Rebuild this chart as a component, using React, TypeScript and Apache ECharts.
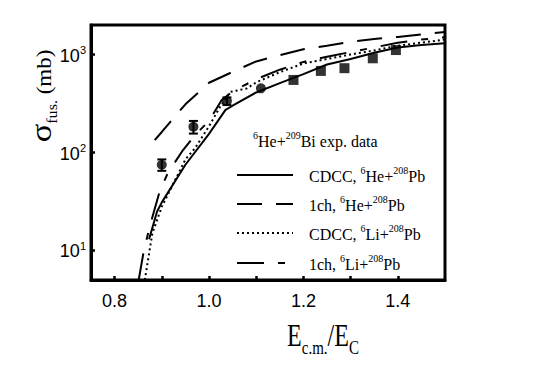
import React, { useEffect, useRef } from 'react';
import * as echarts from 'echarts';

// ---- data (sigma_fus in mb vs Ec.m./Ec) ----
const cdccHeX = [0.873, 0.89, 0.9, 0.95, 1.0, 1.035, 1.05, 1.1, 1.15, 1.2, 1.25, 1.3, 1.35, 1.4, 1.45, 1.5];
const cdccHeY = [13, 25, 31, 75, 155, 272, 300, 410, 510, 630, 790, 900, 1040, 1180, 1250, 1300];

const oneChHeX = [0.885, 0.9, 0.925, 0.95, 0.98, 1.0, 1.05, 1.1, 1.15, 1.2, 1.25, 1.3, 1.35, 1.4, 1.45, 1.5];
const oneChHeY = [134, 162, 225, 310, 420, 515, 665, 850, 985, 1130, 1230, 1350, 1440, 1510, 1600, 1700];

const cdccLiX = [0.864, 0.88, 0.9, 0.95, 0.97, 1.0, 1.023, 1.045, 1.08, 1.1, 1.15, 1.2, 1.25, 1.3, 1.35, 1.4, 1.45, 1.5];
const cdccLiY = [5, 15, 28, 85, 110, 185, 290, 415, 450, 520, 660, 810, 900, 1000, 1100, 1230, 1320, 1420];

const oneChLiX = [0.851, 0.862, 0.875, 0.896, 0.913, 0.945, 0.97, 1.0, 1.027, 1.05, 1.1, 1.15, 1.2, 1.25, 1.3, 1.35, 1.4, 1.45, 1.5];
const oneChLiY = [5, 10, 18, 41, 62, 106, 150, 210, 344, 420, 560, 700, 840, 950, 1060, 1180, 1320, 1420, 1500];

const expCircleX = [0.9, 0.967, 1.038, 1.11];
const expCircleY = [75, 183, 335, 452];
const expCircleErr = [10, 27, 30, 0];

const expSquareX = [1.179, 1.237, 1.287, 1.347, 1.396];
const expSquareY = [550, 680, 725, 915, 1110];

const xRange = [0.75, 1.5];
const yRange = [5, 2000];
const xTickValues = [0.8, 0.9, 1.0, 1.1, 1.2, 1.3, 1.4];
const xLabelValues = [0.8, 1.0, 1.2, 1.4];

const legendModel = ['CDCC', '1ch', 'CDCC', '1ch'];
const legendProjectile = ['He', 'He', 'Li', 'Li'];
const projectileMass = '6';
const targetMass = '208';
const target = 'Pb';
const expLabel = { pMass: '6', p: 'He+', tMass: '209', t: 'Bi exp. data' };

const SERIF = 'Liberation Serif';
const SANS = 'Liberation Sans';

function pairs(xs: number[], ys: number[]) {
  return xs.map((x, i) => [x, ys[i]]);
}

export default function App() {
  const ref = useRef<HTMLDivElement>(null);

  useEffect(() => {
    const chart = echarts.init(ref.current!, null, { renderer: 'svg' });

    const dashes: any[] = ['solid', [25, 14], [2, 3], [27, 14, 7, 14]];
    const curveData = [
      pairs(cdccHeX, cdccHeY),
      pairs(oneChHeX, oneChHeY),
      pairs(cdccLiX, cdccLiY),
      pairs(oneChLiX, oneChLiY),
    ];
    const names = legendModel.map(
      (m, i) => `${m}, ${projectileMass}${legendProjectile[i]}+${targetMass}${target}`
    );

    const lineSeries = curveData.map((d, i) => ({
      name: names[i],
      type: 'line',
      data: d,
      showSymbol: false,
      symbol: 'none',
      lineStyle: { color: '#000', width: 2, type: dashes[i] },
      z: 2,
    }));

    const legendRich = {
      n: { fontFamily: SERIF, fontSize: 16, lineHeight: 19, verticalAlign: 'bottom', fill: '#000' },
      s: { fontFamily: SERIF, fontSize: 10, lineHeight: 11, verticalAlign: 'top', fill: '#000' },
    };

    const rowY = [175, 204, 233, 263];
    const legendGraphics: any[] = [];
    rowY.forEach((y, i) => {
      legendGraphics.push({
        type: 'line',
        shape: { x1: 237, y1: y, x2: 293, y2: y },
        style: { stroke: '#000', lineWidth: 2, lineDash: dashes[i] === 'solid' ? null : dashes[i] },
      });
      legendGraphics.push({
        type: 'text',
        x: 309,
        y: y,
        style: {
          text: `{n|${legendModel[i]}, }{s|${projectileMass}}{n|${legendProjectile[i]}+}{s|${targetMass}}{n|${target}}`,
          rich: legendRich,
          align: 'left',
          verticalAlign: 'middle',
        },
      });
    });
    legendGraphics.push({
      type: 'text',
      x: 253,
      y: 140,
      style: {
        text: `{s|${expLabel.pMass}}{n|${expLabel.p}}{s|${expLabel.tMass}}{n|${expLabel.t}}`,
        rich: legendRich,
        align: 'left',
        verticalAlign: 'middle',
      },
    });

    // axis titles
    legendGraphics.push({
      type: 'text',
      x: 323,
      y: 338,
      scaleY: 1.3,
      style: {
        text: '{e|E}{s|c.m.}{e|/E}{s|C}',
        rich: {
          e: { fontFamily: SERIF, fontSize: 24, lineHeight: 30, verticalAlign: 'bottom', padding: [0, 0, 5, 0], fill: '#000' },
          s: { fontFamily: SERIF, fontSize: 15, lineHeight: 18, verticalAlign: 'bottom', fill: '#000' },
        },
        align: 'center',
        verticalAlign: 'middle',
      },
    });
    legendGraphics.push({
      type: 'text',
      x: 43,
      y: 96,
      rotation: Math.PI / 2,
      scaleX: 1.15,
      style: {
        text: '{g|σ}{f|fus.}{m| (mb)}',
        rich: {
          g: { fontFamily: SERIF, fontSize: 30, lineHeight: 32, verticalAlign: 'bottom', padding: [0, 0, 3, 0], fill: '#000' },
          f: { fontFamily: SERIF, fontSize: 14, lineHeight: 16, verticalAlign: 'bottom', fill: '#000' },
          m: { fontFamily: SERIF, fontSize: 20, lineHeight: 24, verticalAlign: 'bottom', padding: [0, 0, 4, 0], fill: '#000' },
        },
        align: 'center',
        verticalAlign: 'middle',
      },
    });

    const errData = expCircleX
      .map((x, i) => [x, expCircleY[i] - expCircleErr[i], expCircleY[i] + expCircleErr[i], expCircleErr[i]])
      .filter((d) => d[3] > 0);

    chart.setOption({
      animation: false,
      backgroundColor: '#fff',
      grid: {
        left: 91,
        right: 100,
        top: 25,
        bottom: 95,
        show: true,
        borderColor: '#000',
        borderWidth: 3,
        backgroundColor: 'transparent',
      },
      xAxis: {
        type: 'value',
        min: xRange[0],
        max: xRange[1],
        splitLine: { show: false },
        axisLine: { show: true, onZero: false, lineStyle: { color: '#000', width: 3 } },
        axisTick: {
          show: true,
          inside: true,
          length: 4,
          customValues: xTickValues,
          lineStyle: { color: '#000', width: 2.5 },
        },
        axisLabel: {
          customValues: xLabelValues,
          formatter: (v: number) => v.toFixed(1),
          fontFamily: SANS,
          fontSize: 18,
          color: '#000',
          margin: 12,
        },
      },
      yAxis: {
        type: 'log',
        logBase: 10,
        min: yRange[0],
        max: yRange[1],
        splitLine: { show: false },
        axisLine: { show: true, onZero: false, lineStyle: { color: '#000', width: 3 } },
        axisTick: { show: true, inside: true, length: 4, lineStyle: { color: '#000', width: 2.5 } },
        minorTick: { show: false },
        axisLabel: {
          showMinLabel: false,
          showMaxLabel: false,
          margin: 5,
          formatter: (v: number) => `{b|10}{s|${Math.round(Math.log10(v))}}`,
          rich: {
            b: { fontFamily: SANS, fontSize: 18, lineHeight: 20, verticalAlign: 'bottom', color: '#000' },
            s: { fontFamily: SANS, fontSize: 11, lineHeight: 11, verticalAlign: 'top', color: '#000' },
          },
        },
      },
      series: [
        ...lineSeries,
        {
          name: 'errors',
          type: 'custom',
          data: errData,
          encode: { x: 0, y: [1, 2] },
          z: 3,
          renderItem: (params: any, api: any) => {
            const lo = api.coord([api.value(0), api.value(1)]);
            const hi = api.coord([api.value(0), api.value(2)]);
            const w = 4.5;
            const st = { stroke: '#000', lineWidth: 2 };
            return {
              type: 'group',
              children: [
                { type: 'line', shape: { x1: lo[0], y1: lo[1], x2: hi[0], y2: hi[1] }, style: st },
                { type: 'line', shape: { x1: lo[0] - w, y1: lo[1], x2: lo[0] + w, y2: lo[1] }, style: st },
                { type: 'line', shape: { x1: hi[0] - w, y1: hi[1], x2: hi[0] + w, y2: hi[1] }, style: st },
              ],
            };
          },
        },
        {
          name: 'exp circles',
          type: 'scatter',
          data: pairs(expCircleX, expCircleY),
          symbol: 'circle',
          symbolSize: 10,
          itemStyle: { color: '#000' },
          z: 4,
        },
        {
          name: 'exp squares',
          type: 'scatter',
          data: pairs(expSquareX, expSquareY),
          symbol: 'rect',
          symbolSize: 10,
          itemStyle: { color: '#000' },
          z: 4,
        },
      ],
      graphic: legendGraphics,
    });

    return () => chart.dispose();
  }, []);

  return (
    <div
      ref={ref}
      style={{ position: 'absolute', left: 0, top: 0, width: 545, height: 375, background: '#fff' }}
    />
  );
}
